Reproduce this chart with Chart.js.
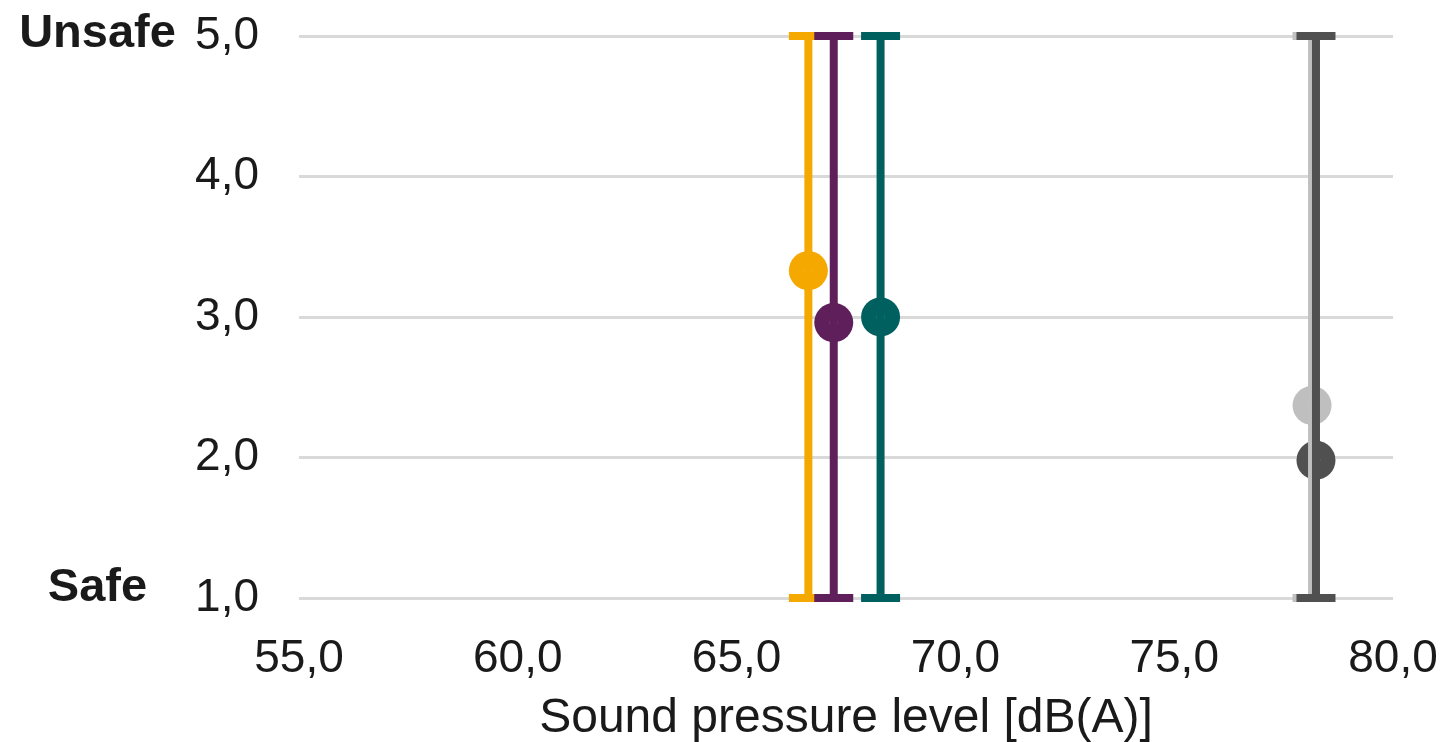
<!DOCTYPE html>
<html><head><meta charset="utf-8">
<script src="https://cdn.jsdelivr.net/npm/chart.js@4/dist/chart.umd.min.js"></script>
<style>html,body{margin:0;padding:0;background:#fff;}#wrap{width:1442px;height:742px;}</style>
</head><body><div id="wrap"><canvas id="c" width="1442" height="742"></canvas></div>
<script>
// ---- data ----
const seriesColors = ['#F5A800', '#5E1F5B', '#005F5F', '#BFBFBF', '#505050'];
const levelX = [66.64, 67.22, 68.29, 78.15, 78.24];   // sound pressure level dB(A)
const meanY = [3.33, 2.96, 3.00, 2.37, 1.98];        // mean rating
const rangeLow = [1, 1, 1, 1, 1];
const rangeHigh = [5, 5, 5, 5, 5];
const xTicks = [55, 60, 65, 70, 75, 80];
const yTicks = [1, 2, 3, 4, 5];
const xTitle = 'Sound pressure level [dB(A)]';
const yEndLabels = [{ value: 1, text: 'Safe' }, { value: 5, text: 'Unsafe' }];

const FONT = '"Liberation Sans", Arial, sans-serif';
const TEXT = '#1a1a1a';
const fmt = v => Number(v).toFixed(1).replace('.', ',');

const datasets = [];
levelX.forEach((x, i) => {
  const barColor = seriesColors[i] === '#BFBFBF' ? '#C0C0C0' : seriesColors[i];
  datasets.push({
    type: 'scatter',
    data: [{ x: x, y: meanY[i] }],
    backgroundColor: seriesColors[i],
    borderWidth: 0,
    pointRadius: 19.5,
    pointHoverRadius: 19.5,
    order: 30,
    clip: false
  });
  datasets.push({
    type: 'scatter',
    data: [{ x: x, y: meanY[i] }],
    backgroundColor: 'rgba(0,0,0,0)',
    borderColor: 'rgba(255,255,255,0.22)',
    borderWidth: 1,
    pointRadius: 4,
    order: 25,
    clip: false
  });
  datasets.push({
    type: 'line',
    data: [{ x: x, y: rangeLow[i] }, { x: x, y: rangeHigh[i] }],
    borderColor: barColor,
    borderWidth: 8,
    fill: false,
    pointStyle: 'line',
    pointRadius: 19.5,
    pointHoverRadius: 19.5,
    pointBorderWidth: 8,
    pointBorderColor: barColor,
    order: 10 - i,
    clip: false
  });
});

const endLabelPlugin = {
  id: 'endLabels',
  afterDraw(chart) {
    const ctx = chart.ctx, y = chart.scales.y;
    ctx.save();
    ctx.font = 'bold 47px ' + FONT;
    ctx.fillStyle = TEXT;
    ctx.textAlign = 'center';
    ctx.textBaseline = 'middle';
    yEndLabels.forEach(l => {
      const off = l.value === 1 ? -10 : -2;
      ctx.fillText(l.text, 97.5, y.getPixelForValue(l.value) + off);
    });
    ctx.restore();
  }
};

new Chart(document.getElementById('c'), {
  data: { datasets },
  plugins: [endLabelPlugin],
  options: {
    responsive: false,
    animation: false,
    devicePixelRatio: 1,
    events: [],
    layout: { padding: { top: 36, right: 49, left: 0, bottom: 0 } },
    plugins: { legend: { display: false }, tooltip: { enabled: false } },
    scales: {
      x: {
        type: 'linear',
        min: xTicks[0], max: xTicks[xTicks.length - 1],
        afterBuildTicks: s => { s.ticks = xTicks.map(v => ({ value: v })); },
        afterFit: s => { s.height = 144; s.paddingLeft = 0; s.paddingRight = 0; },
        grid: { display: false, drawTicks: false },
        border: { display: false },
        ticks: { callback: fmt, font: { family: FONT, size: 46 }, color: TEXT, padding: 34, maxRotation: 0 },
        title: { display: true, text: xTitle, font: { family: FONT, size: 48, lineHeight: 1 }, color: TEXT, padding: { top: 0, bottom: -1 } }
      },
      y: {
        type: 'linear',
        min: yTicks[0], max: yTicks[yTicks.length - 1],
        afterBuildTicks: s => { s.ticks = yTicks.map(v => ({ value: v })); },
        afterFit: s => { s.width = 299; s.paddingTop = 0; s.paddingBottom = 0; },
        grid: { color: '#D9D9D9', lineWidth: 3, drawTicks: false },
        border: { display: false },
        ticks: { callback: fmt, font: { family: FONT, size: 46 }, color: TEXT, padding: 40 }
      }
    }
  }
});
</script></body></html>
